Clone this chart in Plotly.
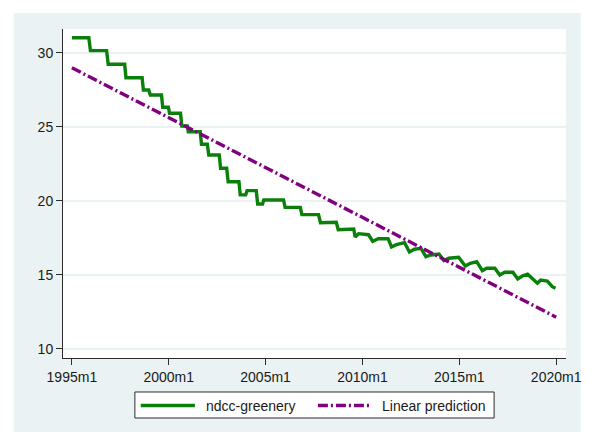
import plotly.graph_objects as go

# Monthly dates in Stata %tm units (months since 1960m1)
month = [
    420, 430.5, 431.5, 441.5, 442.5, 452.7, 453.5, 463.5, 464.3, 467.6,
    468.6, 475.5, 476.3, 479.8, 480.5, 487.3, 488.1, 491.5, 492.1, 499.5,
    500.3, 503.9, 504.8, 511.3, 512.1, 515.9, 516.8, 523.5, 524.3, 527.7,
    528.5, 534.2, 535.1, 538.1, 538.9, 551.1, 552.1, 561.5, 562.5, 572.8,
    574, 583.8, 585, 594.6, 595.5, 597.6, 603.7, 606.4, 609.8, 615.9,
    618, 621, 626.1, 629.1, 632.2, 636.3, 639.3, 642.4, 647.4, 650.5,
    653.5, 659.6, 663.7, 666.8, 670.8, 674.3, 676.9, 682, 685.1, 688.1,
    693.2, 696.2, 699.3, 702.3, 708.4, 710.4, 714.5, 717.6, 719.6,
]
greenery = [
    31.03, 31.03, 30.16, 30.16, 29.24, 29.24, 28.33, 28.33, 27.50, 27.50,
    27.16, 27.16, 26.33, 26.33, 25.93, 25.93, 25.07, 25.07, 24.68, 24.68,
    23.83, 23.83, 23.11, 23.11, 22.21, 22.21, 21.30, 21.30, 20.41, 20.41,
    20.70, 20.70, 19.80, 19.80, 20.07, 20.07, 19.57, 19.57, 19.08, 19.08,
    18.53, 18.56, 18.06, 18.10, 17.57, 17.79, 17.72, 17.28, 17.45, 17.45,
    16.89, 17.05, 17.18, 16.55, 16.74, 16.80, 16.24, 16.35, 16.42, 15.97,
    16.13, 16.20, 15.61, 15.79, 15.90, 15.29, 15.45, 15.45, 15.00, 15.18,
    15.18, 14.73, 14.95, 15.05, 14.44, 14.66, 14.59, 14.21, 14.10,
]

# Fitted linear trend (end points)
pred_month = [420, 720]
pred_value = [29.0, 12.15]

tick_month = [420, 480, 540, 600, 660, 720]
tick_label = ["1995m1", "2000m1", "2005m1", "2010m1", "2015m1", "2020m1"]
y_ticks = [10, 15, 20, 25, 30]
series_names = ["ndcc-greenery", "Linear prediction"]

GREEN = "#0a800a"
PURPLE = "#800080"
REGION = "#eaf2f3"
AXIS = "#2b2b2b"
TEXT = "#1a1a1a"
FONT = "Liberation Sans, Arial, sans-serif"
DASHDOT = "10px,3px,2px,3px"

fig = go.Figure()
fig.add_trace(go.Scatter(
    x=month, y=greenery, mode="lines", name=series_names[0],
    line=dict(color=GREEN, width=3.4), showlegend=False,
))
fig.add_trace(go.Scatter(
    x=pred_month, y=pred_value, mode="lines", name=series_names[1],
    line=dict(color=PURPLE, width=3.4, dash=DASHDOT), showlegend=False,
))

shapes = [
    # graph region (light bluish gray) and white plot region
    dict(type="rect", xref="paper", yref="paper", x0=-0.0978, x1=1.0294,
         y0=-0.2249, y1=1.0486, fillcolor=REGION, line=dict(width=0), layer="below"),
    dict(type="rect", xref="paper", yref="paper", x0=0, x1=1, y0=0, y1=1,
         fillcolor="white", line=dict(width=0), layer="below"),
    # legend box
    dict(type="rect", xref="paper", yref="paper", x0=0.1429, x1=0.8571,
         y0=-0.1824, y1=-0.1033, fillcolor="white", line=dict(color=AXIS, width=1)),
    dict(type="line", xref="paper", yref="paper", x0=0.1546, x1=0.2622,
         y0=-0.1444, y1=-0.1444, line=dict(color=GREEN, width=3.4)),
    dict(type="line", xref="paper", yref="paper", x0=0.5068, x1=0.6125,
         y0=-0.1444, y1=-0.1444, line=dict(color=PURPLE, width=3.4, dash=DASHDOT)),
]
annotations = [
    dict(xref="paper", yref="paper", x=0.2798, y=-0.1444, text=series_names[0],
         showarrow=False, xanchor="left", yanchor="middle",
         font=dict(family=FONT, size=14, color=TEXT)),
    dict(xref="paper", yref="paper", x=0.6301, y=-0.1444, text=series_names[1],
         showarrow=False, xanchor="left", yanchor="middle",
         font=dict(family=FONT, size=14, color=TEXT)),
]

fig.update_layout(
    width=594, height=432,
    margin=dict(l=63, r=20, t=29, b=74),
    paper_bgcolor="white", plot_bgcolor="white",
    font=dict(family=FONT, size=14, color=TEXT),
    shapes=shapes, annotations=annotations,
    showlegend=False,
)
fig.update_xaxes(
    range=[414.5, 726.1], tickvals=tick_month, ticktext=tick_label,
    showgrid=False, zeroline=False, showline=True, linecolor=AXIS, linewidth=1,
    ticks="outside", ticklen=6, tickwidth=1, tickcolor=AXIS,
    tickfont=dict(family=FONT, size=14, color=TEXT),
)
fig.update_yaxes(
    range=[9.39, 31.62], tickvals=y_ticks,
    showgrid=True, gridcolor=REGION, gridwidth=1.5,
    zeroline=False, showline=True, linecolor=AXIS, linewidth=1,
    ticks="outside", ticklen=6, tickwidth=1, tickcolor=AXIS,
    tickfont=dict(family=FONT, size=14, color=TEXT),
)

fig.write_html("out.html")
